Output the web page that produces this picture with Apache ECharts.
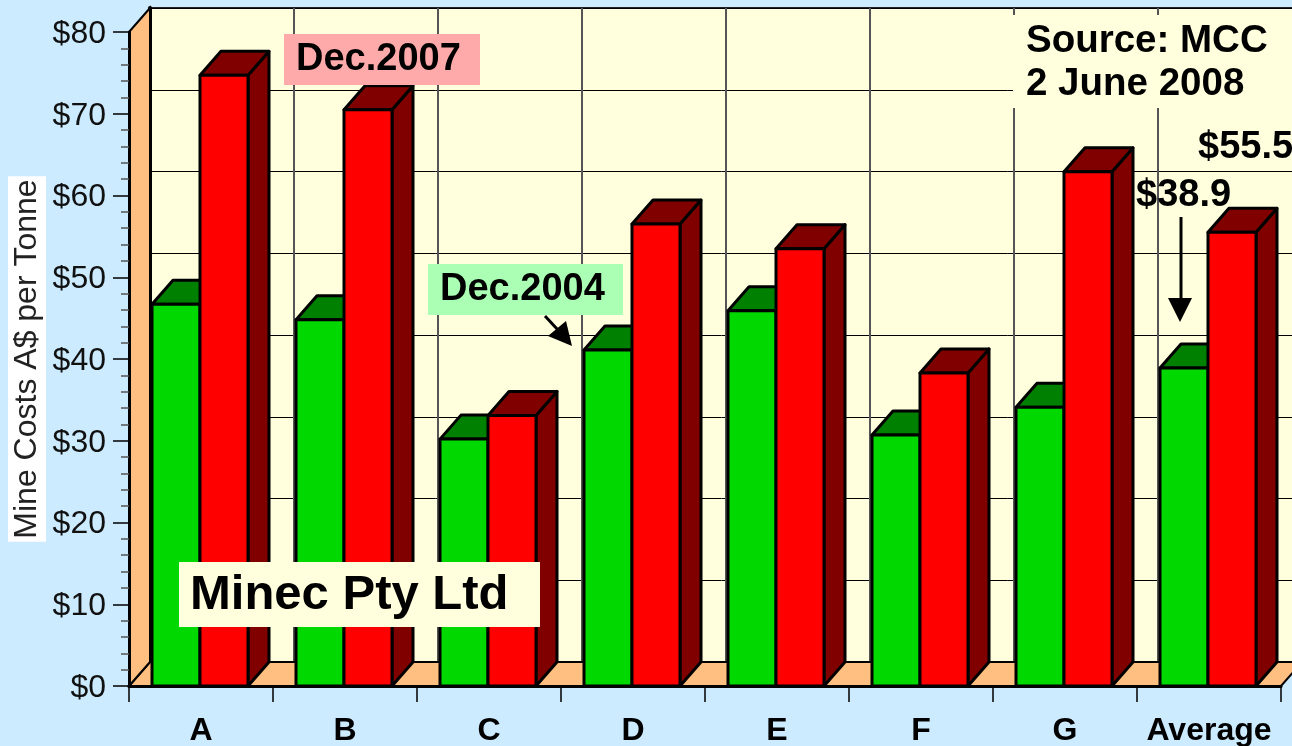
<!DOCTYPE html>
<html>
<head>
<meta charset="utf-8">
<style>
html,body{margin:0;padding:0;background:#CCEBFF;overflow:hidden}
#main{width:1292px;height:746px}
</style>
<script src="https://cdn.jsdelivr.net/npm/echarts@6/dist/echarts.min.js"></script>
</head>
<body>
<div id="main"></div>
<script>
var categories = ['A','B','C','D','E','F','G','Average'];
var dec2004 = [46.7,44.8,30.2,41.1,45.9,30.7,34.1,38.9];
var dec2007 = [74.7,70.5,33.1,56.5,53.5,38.3,62.9,55.5];

var FONT = '"Liberation Sans", Arial, sans-serif';
var DX = 21, DY = 24;

//一根3D柱子
function barItem(side, front, dark){
	return function(params, api){
		var i = api.value(0);
		var w = api.size([1,0])[0] / 3;
		var top = api.coord([i, api.value(1)]);
		var bot = api.coord([i, 0]);
		var x0 = (side < 0 ? top[0] - w : top[0]) - 1;
		var x1 = x0 + w;
		var st = {stroke:'#000', lineWidth:3, lineJoin:'round'};
		return {type:'group', children:[
			{type:'polygon', shape:{points:[[x1,top[1]],[x1+DX,top[1]-DY],[x1+DX,bot[1]-DY],[x1,bot[1]]]}, style:Object.assign({fill:dark},st)},
			{type:'polygon', shape:{points:[[x0,top[1]],[x0+DX,top[1]-DY],[x1+DX,top[1]-DY],[x1,top[1]]]}, style:Object.assign({fill:dark},st)},
			{type:'rect', shape:{x:x0,y:top[1],width:w,height:bot[1]-top[1]}, style:Object.assign({fill:front},st)}
		]};
	};
}

//左墙和地板
function wallItem(params, api){
	var band = api.size([1,0])[0];
	var first = api.coord([0,0]);
	var last = api.coord([categories.length-1,0]);
	var firstTop = api.coord([0,80]);
	var bl = [first[0]-band/2, first[1]];
	var tl = [first[0]-band/2, firstTop[1]];
	var br = [last[0]+band/2, last[1]];
	var st = {fill:'#FFBF80', stroke:'#000', lineWidth:2};
	return {type:'group', children:[
		{type:'polygon', shape:{points:[bl,[bl[0]+DX,bl[1]-DY],[br[0]+DX,br[1]-DY],br]}, style:st},
		{type:'polygon', shape:{points:[bl,tl,[tl[0]+DX,tl[1]-DY],[bl[0]+DX,bl[1]-DY]]}, style:st}
	]};
}

function box(x,y,w,h,color){
	return {type:'rect', z:50, shape:{x:x,y:y,width:w,height:h}, style:{fill:color}};
}
function label(x,y,text,size){
	return {type:'text', z:51, x:x, y:y, style:{text:text, fill:'#000', font:'bold '+size+'px '+FONT, textVerticalAlign:'middle'}};
}
function arrow(x1,y1,x2,y2,head){
	return [
		{type:'line', z:51, shape:{x1:x1,y1:y1,x2:x2,y2:y2}, style:{stroke:'#000', lineWidth:3}},
		{type:'polygon', z:51, shape:{points:head}, style:{fill:'#000'}}
	];
}

var chart = echarts.init(document.getElementById('main'));
chart.setOption({
	backgroundColor:'#CCEBFF',
	animation:false,
	grid:[
		{left:129, top:32, width:1152, height:654, z:5, outerBoundsMode:'none'},
		{left:150, top:8, width:1152, height:654, z:0, outerBoundsMode:'none', show:true, backgroundColor:'#FFFFDD', borderColor:'#222', borderWidth:2}
	],
	xAxis:[
		{type:'category', gridIndex:0, data:categories, z:8,
			axisLine:{onZero:false, lineStyle:{color:'#000', width:3}},
			axisTick:{show:true, alignWithLabel:false, length:16, lineStyle:{color:'#000', width:1.5}},
			axisLabel:{interval:0, margin:29, color:'#000', fontFamily:FONT, fontWeight:'bold', fontSize:32},
			splitLine:{show:false}},
		{type:'category', gridIndex:1, data:categories, z:1,
			axisLine:{show:false}, axisTick:{show:false}, axisLabel:{show:false},
			splitLine:{show:true, interval:0, lineStyle:{color:'#555', width:2}}}
	],
	yAxis:[
		{type:'value', gridIndex:0, min:0, max:80, interval:10, z:8,
			name:'Mine Costs A$ per Tonne', nameLocation:'middle', nameGap:83, nameRotate:90, nameMoveOverlap:false,
			nameTextStyle:{color:'#222', fontFamily:FONT, fontSize:32, backgroundColor:'#fff', padding:[3,3,3,3]},
			axisLine:{show:true, lineStyle:{color:'#000', width:3}},
			axisTick:{show:true, length:16, lineStyle:{color:'#000', width:1.5}},
			minorTick:{show:true, splitNumber:5, length:8, lineStyle:{color:'#555', width:1.5}},
			axisLabel:{margin:23, color:'#111', fontFamily:FONT, fontSize:32, verticalAlign:'top', lineHeight:4, formatter:function(v){return '$'+v;}},
			splitLine:{show:false}},
		{type:'value', gridIndex:1, min:0, max:80, interval:10, z:1,
			axisLine:{show:true, onZero:false, lineStyle:{color:'#000', width:4}}, axisTick:{show:false}, axisLabel:{show:false},
			splitLine:{show:true, lineStyle:{color:'#000', width:1}}}
	],
	series:[
		{type:'custom', xAxisIndex:0, yAxisIndex:0, z:3, silent:true, renderItem:wallItem, data:[[0,0]]},
		{type:'custom', xAxisIndex:0, yAxisIndex:0, z:4, encode:{x:0,y:1}, renderItem:barItem(-1,'#00D800','#008000'),
			data:dec2004.map(function(v,i){return [i,v];})},
		{type:'custom', xAxisIndex:0, yAxisIndex:0, z:5, encode:{x:0,y:1}, renderItem:barItem(1,'#FF0000','#800000'),
			data:dec2007.map(function(v,i){return [i,v];})}
	],
	graphic:{elements:[].concat(
		[box(284,34,196,51,'#FFAAAA'), label(296,60,'Dec.2007',38)],
		[box(428,264,195,51,'#AAFFB4'), label(440,290,'Dec.2004',38)],
		[box(179,562,361,65,'#FFFFDD'), label(190,595,'Minec Pty Ltd',49)],
		[box(1013,15,279,93,'#FFFFDD'), label(1026,41,'Source: MCC',38.5), label(1026,84,'2 June 2008',38.5)],
		[label(1198,148,'$55.5',38), label(1136,196,'$38.9',38)],
		arrow(1181,217,1181,302,[[1168,298],[1192,298],[1180,322]]),
		arrow(545,316,558,330,[[566,321],[548,336],[572,346]])
	)}
});
</script>
</body>
</html>
